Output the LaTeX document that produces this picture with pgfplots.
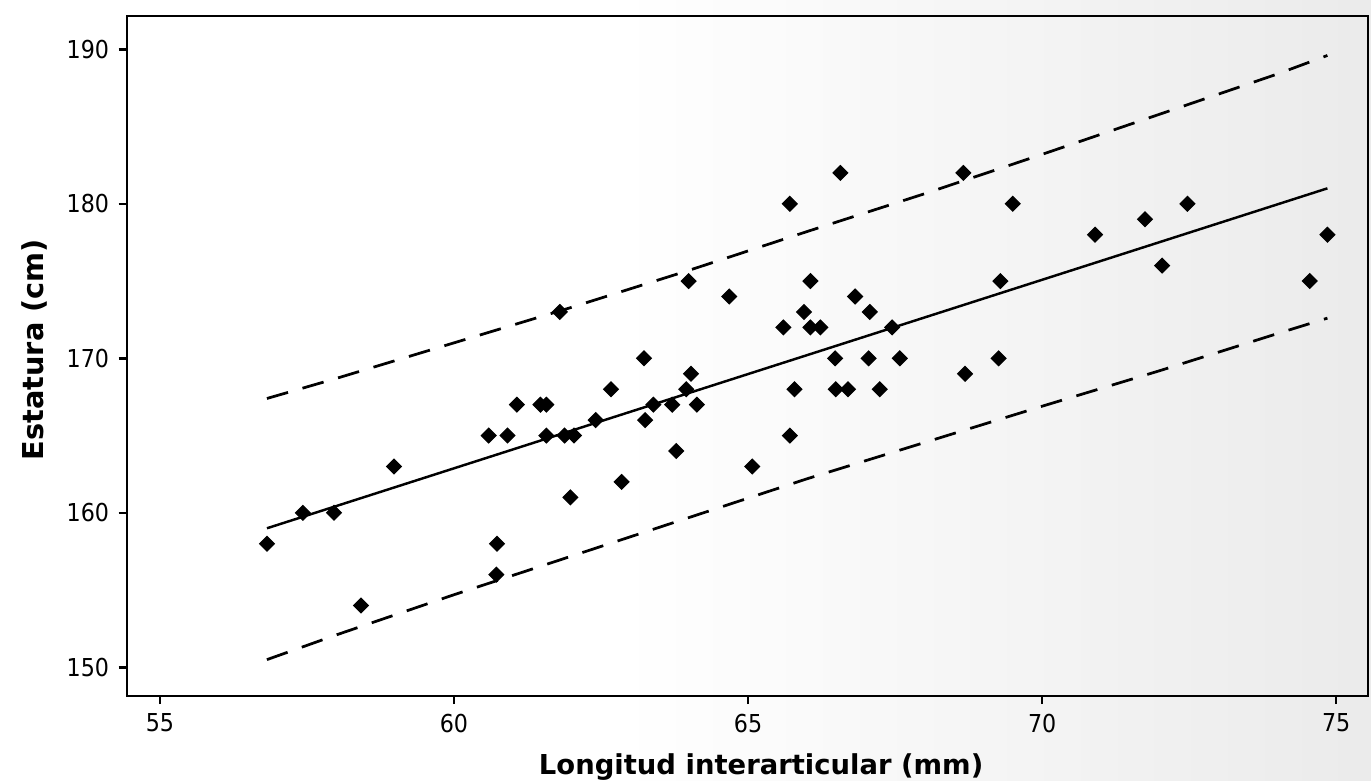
\documentclass[border=0pt]{standalone}
\usepackage{pgfplots}
\pgfplotsset{compat=1.18}
\usepackage{pgfplotstable}
\usepackage{fontspec}
\setmainfont{DejaVu Sans}
\newfontfamily\condfont{DejaVu Sans Condensed}

\pgfplotstableread{
x y
56.82 158
57.43 160
57.96 160
58.42 154
58.98 163
60.59 165
60.91 165
61.07 167
61.47 167
61.57 167
61.57 165
60.73 158
60.72 156
61.88 165
62.04 165
62.67 168
62.41 166
61.98 161
62.85 162
63.25 166
63.39 167
63.71 167
63.78 164
63.95 168
64.13 167
65.07 163
65.71 165
65.79 168
66.49 168
66.70 168
67.24 168
68.69 169
61.80 173
63.23 170
64.03 169
63.99 175
64.68 174
65.71 180
66.57 182
66.06 175
65.95 173
65.60 172
66.06 172
66.23 172
66.82 174
67.07 173
67.45 172
66.48 170
67.05 170
67.58 170
68.66 182
69.50 180
69.29 175
70.90 178
71.75 179
72.47 180
72.04 176
74.85 178
74.55 175
69.26 170
}\datatable

\pgfplotstableread{
x y
56.82 159.0
74.85 181.0
}\fittable

\pgfplotstableread{
x y
56.82 167.4
58 168.7
60 171.0
62 173.3
64 175.7
66 178.2
68 180.65
70 183.2
72 185.8
74 188.4
74.85 189.6
}\uppertable

\pgfplotstableread{
x y
56.82 150.5
58 152.1
60 154.7
62 157.2
64 159.7
66 162.2
68 164.55
70 166.9
72 169.2
74 171.6
74.85 172.6
}\lowertable

\begin{document}
\begin{tikzpicture}
\fill[white] (-46.3pt,-30.7pt) rectangle (453.7pt,253.8pt);
\shade[left color=white, right color=black!8] (180pt,-30.7pt) rectangle (453.7pt,253.8pt);
\begin{axis}[
  at={(0,0)}, anchor=south west,
  width=452.6pt, height=248pt, scale only axis,
  xmin=54.44, xmax=75.54, ymin=148.15, ymax=192.16,
  xtick={55,60,65,70,75}, ytick={150,160,170,180,190},
  axis line style={line width=1pt},
  tick style={line width=0.9pt, black},
  tick align=outside, major tick length=3pt,
  xtick pos=bottom, ytick pos=left,
  ticklabel style={font=\condfont\fontsize{9}{10}\selectfont},
  /pgf/number format/assume math mode=true,
  /pgf/number format/1000 sep={},
  xlabel={Longitud interarticular (mm)},
  ylabel={Estatura (cm)},
  xlabel style={font=\bfseries\fontsize{10}{12}\selectfont, at={(axis description cs:0.511,0)}, anchor=base, yshift=-28.6pt},
  ylabel style={font=\bfseries\fontsize{10.5}{12}\selectfont, at={(axis description cs:-0.0676,0.509)}, anchor=base},
  clip=false,
]
\addplot[black, line width=1pt, dash pattern=on 8pt off 5.5pt] table {\uppertable};
\addplot[black, line width=1pt, dash pattern=on 8pt off 5.5pt] table {\lowertable};
\addplot[black, line width=0.9pt] table {\fittable};
\addplot[only marks, mark=square*, mark size=1.9pt, mark options={rotate=45, fill=black, draw=black}] table {\datatable};
\end{axis}
\pgfresetboundingbox
\path[use as bounding box] (-46.3pt,-30.7pt) rectangle (453.7pt,253.8pt);
\end{tikzpicture}
\end{document}
